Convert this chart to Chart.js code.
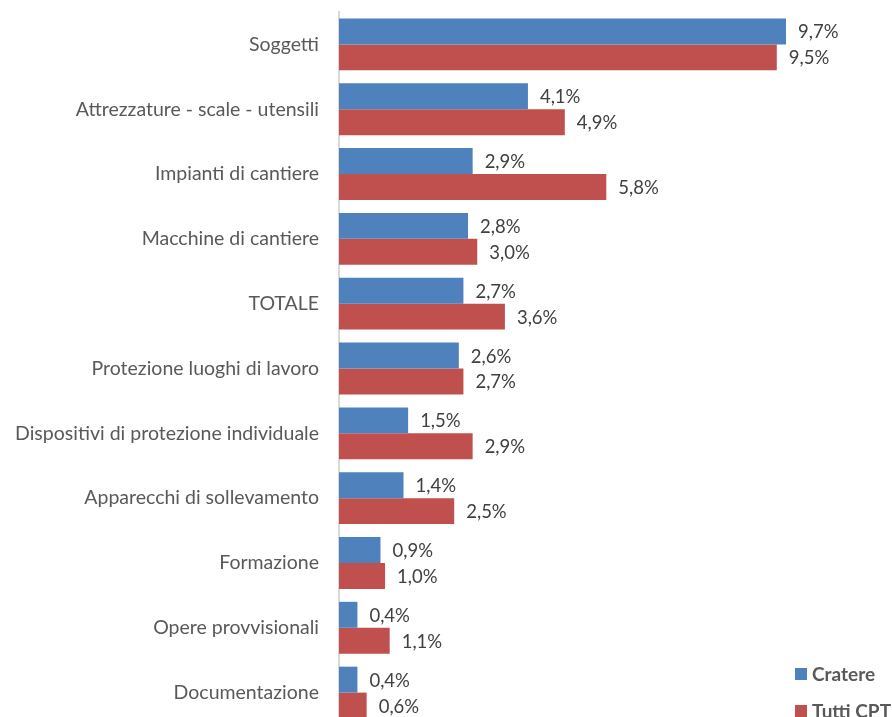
<!DOCTYPE html>
<html lang="it">
  <head>
    <meta charset="UTF-8" />
    <meta name="viewport" content="width=device-width, initial-scale=1.0" />
    <script src="https://cdn.jsdelivr.net/npm/chart.js@4.4.0/dist/chart.umd.min.js"></script>
    <title>Cratere vs Tutti CPT</title>
    <style>
      html, body { margin: 0; padding: 0; overflow: hidden; background: #fff; }
      #box { width: 892px; height: 725px; }
    </style>
  </head>
  <body>
    <div id="box">
      <canvas id="myChart"></canvas>
    </div>
    <script>
      // categorie e valori (%)
      const categories = [
        "Soggetti",
        "Attrezzature - scale - utensili",
        "Impianti di cantiere",
        "Macchine di cantiere",
        "TOTALE",
        "Protezione luoghi di lavoro",
        "Dispositivi di protezione individuale",
        "Apparecchi di sollevamento",
        "Formazione",
        "Opere provvisionali",
        "Documentazione",
      ];
      const cratere = [9.7, 4.1, 2.9, 2.8, 2.7, 2.6, 1.5, 1.4, 0.9, 0.4, 0.4];
      const tuttiCpt = [9.5, 4.9, 5.8, 3.0, 3.6, 2.7, 2.9, 2.5, 1.0, 1.1, 0.6];
      const seriesNames = ["Cratere", "Tutti CPT"];
      const colors = ["#4f81bd", "#c0504d"];

      const FONT = "Lato, 'Open Sans', sans-serif";

      function fmt(v) {
        return v.toFixed(1).replace(".", ",") + "%";
      }

      // etichette dei valori a destra delle barre
      const valueLabels = {
        id: "valueLabels",
        afterDatasetsDraw(chart) {
          const ctx = chart.ctx;
          ctx.save();
          ctx.font = "18.5px " + FONT;
          ctx.fillStyle = "#404040";
          ctx.textBaseline = "middle";
          ctx.textAlign = "left";
          chart.data.datasets.forEach((ds, i) => {
            chart.getDatasetMeta(i).data.forEach((bar, j) => {
              ctx.fillText(fmt(ds.data[j]), bar.x + 12, bar.y + 1);
            });
          });
          ctx.restore();
        },
      };

      // legenda in basso a destra
      const cornerLegend = {
        id: "cornerLegend",
        afterDraw(chart) {
          const ctx = chart.ctx;
          ctx.save();
          ctx.font = "bold 19px " + FONT;
          ctx.textBaseline = "middle";
          const rows = [674, 711];
          chart.data.datasets.forEach((ds, i) => {
            ctx.fillStyle = ds.backgroundColor;
            ctx.fillRect(795, rows[i] - 6, 12, 12);
            ctx.fillStyle = "#595959";
            ctx.fillText(ds.label, 812, rows[i] + 1);
          });
          ctx.restore();
        },
      };

      const data = {
        labels: categories,
        datasets: seriesNames.map((name, i) => ({
          label: name,
          data: i === 0 ? cratere : tuttiCpt,
          backgroundColor: colors[i],
          categoryPercentage: 0.8,
          barPercentage: 1.0,
        })),
      };

      const options = {
        indexAxis: "y",
        responsive: true,
        maintainAspectRatio: false,
        animation: false,
        layout: { padding: { top: 12, right: 0, bottom: 0, left: 0 } },
        plugins: {
          legend: { display: false },
          tooltip: { enabled: false },
        },
        scales: {
          x: {
            display: false,
            min: 0,
            max: 12,
          },
          y: {
            grid: { display: false, drawTicks: false },
            border: { display: true, color: "#d9d9d9", width: 2 },
            ticks: {
              color: "#595959",
              padding: 20,
              font: { family: FONT, size: 19.5 },
            },
            afterFit(scale) {
              scale.width = 339;
              scale.paddingTop = 0;
              scale.paddingBottom = 0;
            },
          },
        },
      };

      new Chart(document.getElementById("myChart"), {
        type: "bar",
        data: data,
        options: options,
        plugins: [valueLabels, cornerLegend],
      });
    </script>
  </body>
</html>
